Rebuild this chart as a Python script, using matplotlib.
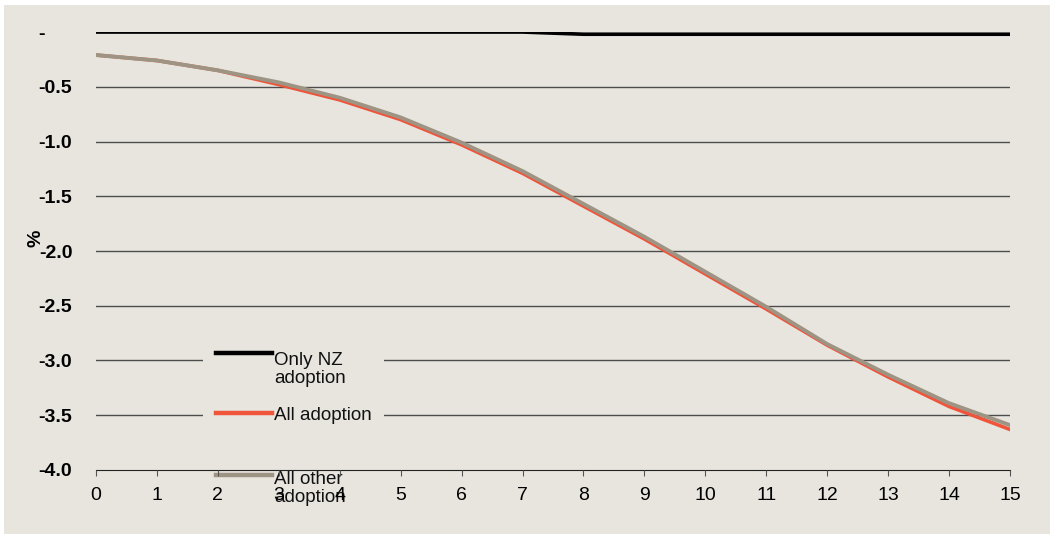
import matplotlib
matplotlib.use("Agg")
import matplotlib.pyplot as plt
from matplotlib.lines import Line2D
from matplotlib.patches import Rectangle

plt.rcParams['font.family'] = ['Liberation Sans', 'DejaVu Sans']

years = list(range(16))
only_nz = [0.0, 0.0, 0.0, 0.0, 0.0, 0.0, 0.0, 0.0, -0.02, -0.02, -0.02, -0.02, -0.02, -0.02, -0.02, -0.02]
all_adoption = [-0.21, -0.26, -0.35, -0.48, -0.62, -0.80, -1.03, -1.29, -1.59, -1.89, -2.21, -2.53, -2.86, -3.15, -3.42, -3.63]
all_other = [-0.21, -0.26, -0.35, -0.46, -0.60, -0.78, -1.01, -1.27, -1.57, -1.87, -2.19, -2.51, -2.85, -3.13, -3.39, -3.59]
yticks = [0.0, -0.5, -1.0, -1.5, -2.0, -2.5, -3.0, -3.5, -4.0]
ytick_labels = ['-     ', '-0.5', '-1.0', '-1.5', '-2.0', '-2.5', '-3.0', '-3.5', '-4.0']
series_labels = ['Only NZ\nadoption', 'All adoption', 'All other\nadoption']
series_colors = ['black', '#f0543a', '#9d9484']

bg = '#e8e5df'
fig = plt.figure(figsize=(10.5, 5.34), dpi=100, facecolor='white')
fig.patches.append(Rectangle((0.004, 0), 0.996, 0.99, transform=fig.transFigure,
                             facecolor=bg, edgecolor='none', zorder=-1))
ax = fig.add_axes([0.0914, 0.1199, 0.8705, 0.8201])
ax.patch.set_alpha(0)

# horizontal gridlines
for y in yticks[1:-1]:
    ax.axhline(y, color='#4d4d4d', lw=1.0, zorder=1)

for vals, col, lw in zip([only_nz, all_adoption, all_other], series_colors, [2.6, 2.6, 2.8]):
    ax.plot(years, vals, color=col, lw=lw, zorder=3)

# legend, drawn by hand so the handle sits on the first text line
ax.add_patch(Rectangle((0.117, -0.08), 0.198, 0.377, transform=ax.transAxes,
                       facecolor=bg, edgecolor='none', clip_on=False, zorder=2))
handle_y = [0.267, 0.130, -0.0114]
base_y = [0.1986, 0.1142, -0.073]   # baseline of the last text line
for hy, by, lab, col in zip(handle_y, base_y, series_labels, series_colors):
    ax.add_line(Line2D([0.1313, 0.1926], [hy, hy], transform=ax.transAxes,
                       color=col, lw=3.2, clip_on=False, zorder=2.1))
    ax.text(0.1947, by, lab, transform=ax.transAxes, fontsize=13.5, va='baseline',
            ha='left', linespacing=1.05, color='#111111', zorder=2.1)

ax.set_xlim(0, 15)
ax.set_ylim(-4.0, 0.0)
ax.set_xticks(years)
ax.set_yticks(yticks)
ax.set_yticklabels(ytick_labels, fontweight='bold')
ax.tick_params(axis='y', length=0, labelsize=14, pad=17)
ax.tick_params(axis='x', length=4.5, color='#555555', labelsize=14, pad=8)
for s in ['top', 'right', 'left']:
    ax.spines[s].set_visible(False)
ax.spines['bottom'].set_color('#222222')
ax.spines['bottom'].set_zorder(2.5)
ax.xaxis.set_zorder(2.6)

ax.set_ylabel('%', fontsize=14, fontweight='bold')
ax.yaxis.set_label_coords(-0.0558, 0.53)

fig.savefig('out.png', dpi=100, facecolor='white')
